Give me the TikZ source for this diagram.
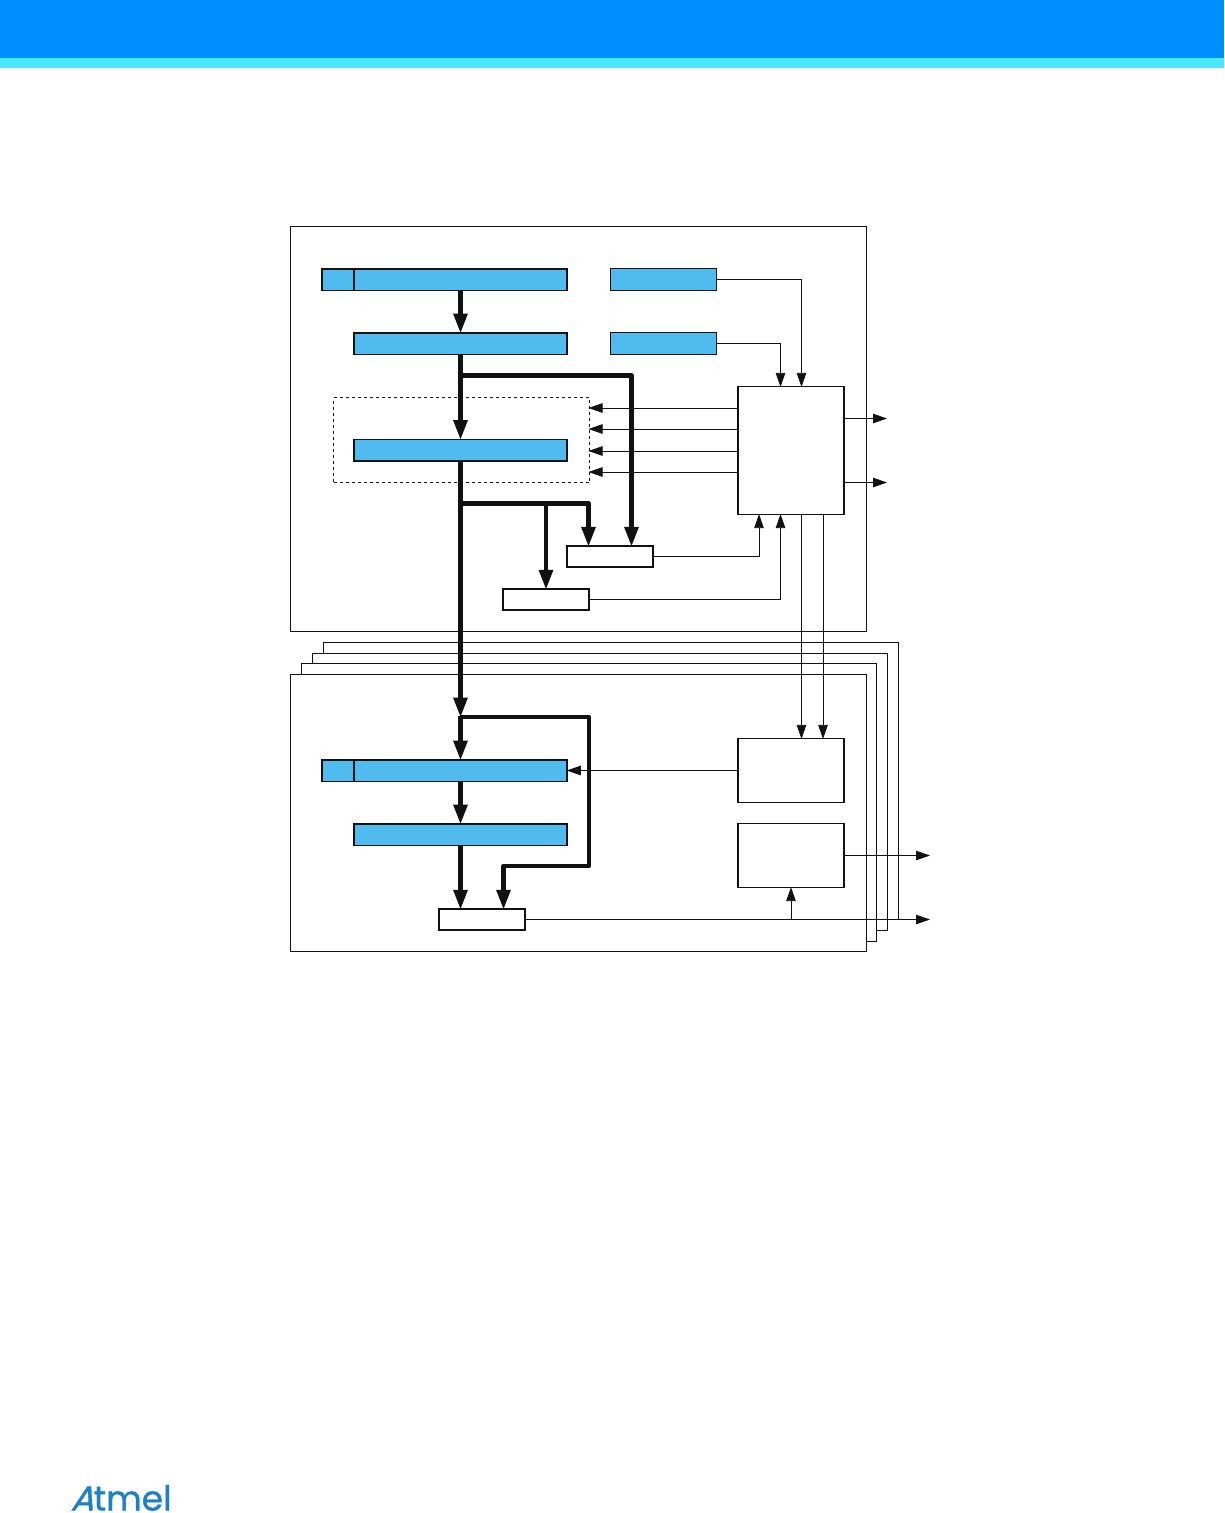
\documentclass[tikz,border=0pt]{standalone}
\usepackage{fontspec}
\usetikzlibrary{arrows.meta}
\newfontfamily\logofont[FakeBold=0.9]{Poppins}
\newfontfamily\logoslant[FakeBold=0.9,FakeSlant=0.3]{Poppins}
\definecolor{headblue}{HTML}{008FFF}
\definecolor{headcyan}{HTML}{4DE6FF}
\definecolor{barblue}{HTML}{50BBEF}
\definecolor{logoblue}{HTML}{1B7FCC}
\definecolor{ink}{HTML}{111111}
\tikzset{
    frame/.style={draw=ink,fill=white,line width=1pt},
    box/.style={draw=ink,fill=white,line width=1.2pt,inner sep=0pt,minimum width=106pt},
    bar/.style={draw=ink,fill=barblue,line width=1.5pt,inner sep=0pt,minimum height=21.5pt},
    smallbar/.style={draw=ink,fill=barblue,line width=1.2pt,inner sep=0pt,minimum width=106pt,minimum height=21.8pt},
    tinybox/.style={draw=ink,fill=white,line width=1.5pt,inner sep=0pt,minimum width=86pt,minimum height=21pt},
    bus/.style={draw=ink,line width=4.5pt,line join=round,shorten >=-1.5pt,-{Triangle[length=20pt,width=13.5pt]}},
    wire/.style={draw=ink,line width=0.8pt,shorten >=-1pt,-{Triangle[length=14pt,width=9.5pt]}}
}
\begin{document}
\begin{tikzpicture}[x=1pt,y=-1pt]
    \useasboundingbox (0,0) rectangle (1224,1513);
    \fill[headblue] (0,0) rectangle (1224,58);
    \fill[headcyan] (0,58) rectangle (1224,68);
    \node[text=logoblue,font=\logofont\fontsize{34.5}{34.5}\selectfont,inner sep=0pt,anchor=base] (logo) at (121,1510.5) {{\logoslant A}tmel};

    \draw[frame] (290.5,226.5) rectangle (866.5,631.5);
    \draw[frame] (323,642.5) rectangle (898,919.5);
    \draw[frame] (312,653.5) rectangle (887.5,930.5);
    \draw[frame] (301.5,663.5) rectangle (876.5,941);
    \draw[frame] (290.5,674.5) rectangle (866.5,951.5);

    \node[draw=ink,dashed,line width=0.8pt,inner sep=0pt,minimum width=256pt,minimum height=85pt] (window) at (461.5,440) {};

    \node[bar,minimum width=32pt] (fetchtag) at (338,279.5) {};
    \node[bar,minimum width=213pt] (fetch) at (460.5,279.5) {};
    \node[bar,minimum width=213pt] (latch) at (460.5,343.5) {};
    \node[bar,minimum width=213pt] (store) at (460.5,450) {};
    \node[smallbar] (topset) at (663.5,279.5) {};
    \node[smallbar] (topclr) at (663.5,343.3) {};
    \node[box,minimum height=128pt] (ctrl) at (791,450.5) {};
    \node[tinybox] (cmpa) at (610,556.5) {};
    \node[tinybox] (cmpb) at (546,599.5) {};

    \node[bar,minimum width=32pt] (chantag) at (338,770.5) {};
    \node[bar,minimum width=213pt] (chanbuf) at (460.5,770.5) {};
    \node[bar,minimum width=213pt] (chanreg) at (460.5,834.5) {};
    \node[tinybox] (chancmp) at (482,919.5) {};
    \node[box,minimum height=64pt] (chanctl) at (791,770.5) {};
    \node[box,minimum height=64pt] (chanout) at (791,855.5) {};

    \coordinate (tapa) at (460.5,375.5);
    \coordinate (tapb) at (460.5,503.5);
    \coordinate (tapc) at (546,503.5);
    \coordinate (tapd) at (460.5,716);
    \coordinate (loopa) at (589,717);
    \coordinate (loopb) at (589,866);
    \coordinate (outa) at (886,418.5);
    \coordinate (outb) at (886,482.5);
    \coordinate (outc) at (929,855.5);
    \coordinate (outd) at (929,919.5);
    \coordinate (tape) at (chanout.south |- chancmp.east);

    \draw[bus] (fetch.south) -- (latch.north);
    \draw[bus] (latch.south) -- (store.north);
    \draw[bus] (tapa) -| ([xshift=21.5pt]cmpa.north);
    \draw[bus] (store.south) -- (tapd);
    \draw[bus] (tapb) -| ([xshift=-21.5pt]cmpa.north);
    \draw[bus] (tapc) -- (cmpb.north);
    \draw[bus] (tapd) -- (chanbuf.north);
    \draw[bus] (chanbuf.south) -- (chanreg.north);
    \draw[bus] (chanreg.south) -- ([xshift=-21.5pt]chancmp.north);
    \draw[bus] ([yshift=-1pt]tapd) -- (loopa) -- (loopb) -| ([xshift=21.5pt]chancmp.north);

    \draw[wire] (topset.east) -| ([xshift=10.5pt]ctrl.north);
    \draw[wire] (topclr.east) -| ([xshift=-10.5pt]ctrl.north);
    \foreach \y in {408,429,451,472} {
        \coordinate (edge\y) at (589.5,\y);
        \draw[wire] (ctrl.west |- edge\y) -- (edge\y);
    }
    \draw[wire] (ctrl.east |- outa) -- (outa);
    \draw[wire] (ctrl.east |- outb) -- (outb);
    \draw[wire] (cmpa.east) -| ([xshift=-32pt]ctrl.south);
    \draw[wire] (cmpb.east) -| ([xshift=-10.5pt]ctrl.south);
    \draw[wire] ([xshift=10.5pt]ctrl.south) -- ([xshift=10.5pt]chanctl.north);
    \draw[wire] ([xshift=32pt]ctrl.south) -- ([xshift=32pt]chanctl.north);
    \draw[wire] (chanctl.west) -- (chanbuf.east);
    \draw[wire] (chanout.east) -- (outc);
    \draw[wire] (chancmp.east) -- (outd);
    \draw[wire] (tape) -- (chanout.south);
\end{tikzpicture}
\end{document}
